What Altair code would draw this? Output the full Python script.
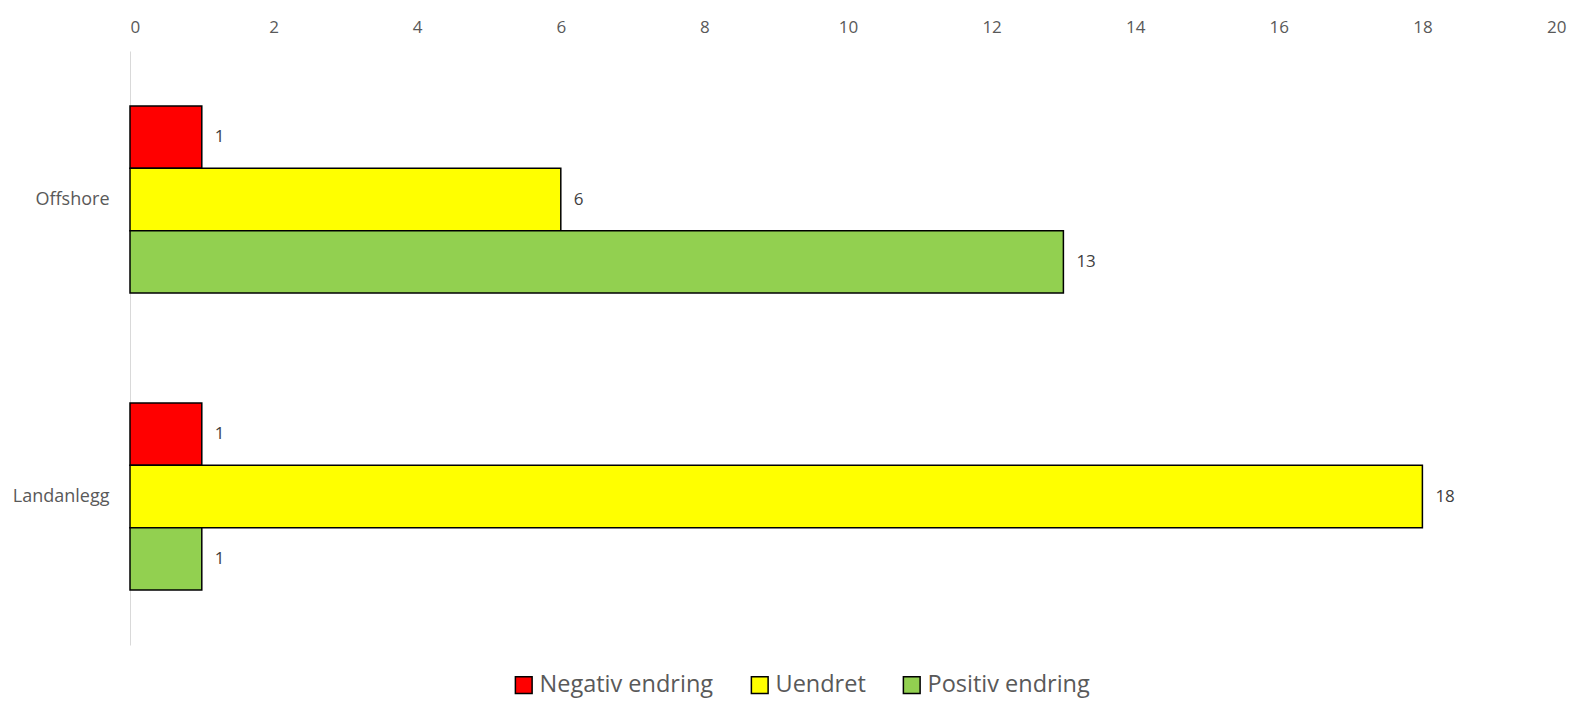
import altair as alt
import pandas as pd

categories = ["Offshore", "Landanlegg"]
series = ["Negativ endring", "Uendret", "Positiv endring"]
colors = ["#FF0000", "#FFFF00", "#92D050"]
offshore_values = [1, 6, 13]
landanlegg_values = [1, 18, 1]
x_ticks = [0, 2, 4, 6, 8, 10, 12, 14, 16, 18, 20]

rows = []
for cat, vals in zip(categories, [offshore_values, landanlegg_values]):
    for s, v in zip(series, vals):
        rows.append({"Kategori": cat, "Serie": s, "Antall": v})
df = pd.DataFrame(rows)

FONT = "Open Sans"

base = alt.Chart(df).encode(
    y=alt.Y("Kategori:N", sort=categories, title=None,
            scale=alt.Scale(paddingInner=0.37, paddingOuter=0.185),
            axis=alt.Axis(domainColor="#d9d9d9", domainWidth=1, ticks=False,
                          labelFont=FONT, labelFontSize=18, labelColor="#595959",
                          labelPadding=21)),
    yOffset=alt.YOffset("Serie:N", sort=series, scale=alt.Scale(paddingInner=0, paddingOuter=0)),
)

bars = base.mark_bar(stroke="black", strokeWidth=1.5).encode(
    x=alt.X("Antall:Q", title=None,
            scale=alt.Scale(domain=[0, 20], nice=False),
            axis=alt.Axis(orient="top", values=x_ticks, format="d", grid=False, domain=False,
                          ticks=False, labelFont=FONT, labelFontSize=17,
                          labelColor="#595959", labelPadding=15)),
    color=alt.Color("Serie:N", sort=series,
                    scale=alt.Scale(domain=series, range=colors),
                    legend=alt.Legend(title=None, orient="none", direction="horizontal",
                                      legendX=382, legendY=622,
                                      symbolType="square", symbolSize=280,
                                      symbolStrokeColor="black", symbolStrokeWidth=1.5,
                                      labelFont=FONT, labelFontSize=23.5, labelLimit=400,
                                      labelColor="#595959", columnPadding=34,
                                      labelOffset=4)),
)

labels = base.mark_text(align="left", baseline="middle", dx=13, font=FONT,
                        fontSize=17, color="#404040").encode(
    x=alt.X("Antall:Q"),
    text=alt.Text("Antall:Q"),
)

chart = (bars + labels).properties(
    width=1436, height=594,
    autosize=alt.AutoSizeParams(type="none"),
    padding={"left": 122, "top": 43, "right": 6, "bottom": 57},
).configure_view(stroke=None)

chart.save("out.html", embed_options={"renderer": "svg", "actions": False})
